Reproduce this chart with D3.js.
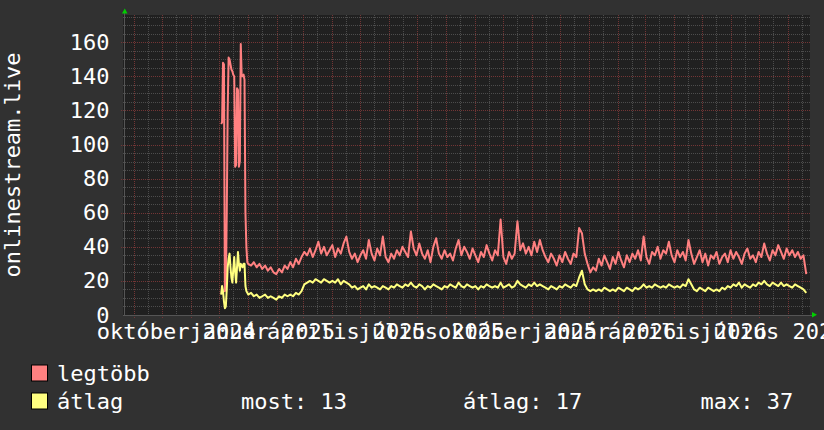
<!DOCTYPE html>
<html><head><meta charset="utf-8">
<script src="https://cdn.jsdelivr.net/npm/d3@7"></script>
<style>html,body{margin:0;padding:0;background:#313131;} svg{display:block;}</style>
</head><body>
<svg id="c" width="824" height="430"></svg>
<script>
const yAxisTitle = "onlinestream.live";
const monthNames = ["január","február","március","április","május","június","július","augusztus","szeptember","október","november","december"];
const labelMonths = ["2024-10-01","2025-01-01","2025-04-01","2025-07-01","2025-10-01","2026-01-01","2026-04-01","2026-07-01"];
const yTicks = [0,20,40,60,80,100,120,140,160];
const seriesNames = ["legtöbb","átlag"];
const seriesColors = ["#ff8080","#ffff80"];
const statLabels = ["most: 13","átlag: 17","max: 37"];

// daily values, December 2024 burst
const spikeStart = "2024-12-03";
const spikeMax = [112,113,148,147,14,15,60,120,151,150,147,144,143,141,140,87,88,133,132,87,90,159,140,140,141,138,60,40,31];
const spikeAvg = [12,17,14,8,4,5,15,28,33,36,28,22,19,27,34,25,19,28,37,30,26,30,29,28,30,30,17,14,13];

// values every 3 days from 2025-01-01
const mainStart = "2025-01-01";
const mainStepDays = 3;
const mainMax = [
30,29,31,28,30,27,29,26,28,25,
24,27,25,29,27,31,28,33,30,34,
37,35,39,34,38,43,36,40,35,38,
41,34,39,36,42,46,37,33,36,31,
35,38,33,44,36,32,39,35,46,34,
31,36,33,38,35,40,37,34,49,39,
35,42,36,33,38,31,40,45,36,33,
38,34,36,32,39,44,35,40,37,33,
39,35,31,37,34,41,36,32,38,35,
56,34,30,37,33,36,55,38,42,36,
40,35,43,37,44,38,34,31,36,33,
29,35,31,37,33,30,36,34,51,48,
36,30,25,28,26,33,29,35,31,27,
34,30,37,32,28,35,31,36,33,38,
32,46,34,30,37,35,40,33,38,36,
43,35,31,38,34,37,32,44,36,30,
34,38,31,36,29,35,33,37,30,34,
36,31,38,33,37,34,30,36,39,33,
35,31,37,34,42,36,32,38,35,41,
37,33,39,35,38,34,37,33,35,24];
const mainAvg = [
12,13,11,12,10,11,12,10,11,10,
9,11,10,12,11,12,11,13,12,14,
18,19,20,19,21,20,19,21,20,19,
20,19,21,18,20,19,18,16,17,15,
16,17,15,18,16,17,16,15,17,16,
15,17,16,18,17,16,18,17,19,17,
16,18,17,15,17,16,18,17,16,15,
17,16,18,17,16,19,17,16,18,17,
16,17,15,17,16,18,17,16,17,16,
19,16,17,18,16,17,20,18,17,16,
18,17,19,17,18,17,16,15,17,16,
15,17,16,18,17,16,18,17,22,26,
18,15,14,15,14,15,14,16,15,14,
15,14,16,15,14,16,15,14,16,15,
16,18,16,17,16,18,17,16,17,16,
18,17,16,17,16,18,17,21,18,15,
14,16,15,14,16,15,14,15,14,16,
15,17,16,18,17,19,16,18,17,16,
18,17,19,18,20,18,17,19,18,17,
19,17,18,17,16,18,17,16,15,13];

const DAY = 86400000;
const FONT = "'DejaVu Sans Mono', monospace";
const L = 123, R = 810, T = 15, B = 315;

const x = d3.scaleUtc().domain([new Date("2024-08-20T00:00:00Z"), new Date("2026-08-25T00:00:00Z")]).range([L, R]);
const y = d3.scaleLinear().domain([0, 176]).range([B, T]);

function build(start, step, vals) {
  const t0 = new Date(start + "T00:00:00Z").getTime();
  return vals.map((v, i) => ({date: new Date(t0 + i * step * DAY), v}));
}
const maxData = build(spikeStart, 1, spikeMax).concat(build(mainStart, mainStepDays, mainMax));
const avgData = build(spikeStart, 1, spikeAvg).concat(build(mainStart, mainStepDays, mainAvg));

const svg = d3.select("#c");
svg.append("rect").attr("width", 824).attr("height", 430).attr("fill", "#313131");
svg.append("rect").attr("x", L).attr("y", T).attr("width", R - L).attr("height", B - T).attr("fill", "#202020");

const minorCol = "#4c4c4c", majorCol = "#733535";
const g = svg.append("g").attr("shape-rendering", "crispEdges");

// horizontal grid
d3.range(5, 176, 5).filter(v => v % 20 !== 0).forEach(v => {
  g.append("line").attr("x1", L).attr("x2", R).attr("y1", Math.round(y(v)) + 0.5).attr("y2", Math.round(y(v)) + 0.5)
    .attr("stroke", minorCol).attr("stroke-dasharray", "1,1");
});
// vertical grid
const months = d3.utcMonth.range(x.domain()[0], x.domain()[1]);
months.forEach(m => {
  const mid = new Date(m.getTime() + 15 * DAY);
  if (mid < x.domain()[1]) {
    const xm = Math.round(x(mid)) + 0.5;
    g.append("line").attr("x1", xm).attr("x2", xm).attr("y1", T).attr("y2", B).attr("stroke", minorCol).attr("stroke-dasharray", "1,1");
  }
});
months.forEach(m => {
  const xm = Math.round(x(m)) + 0.5;
  g.append("line").attr("x1", xm).attr("x2", xm).attr("y1", T).attr("y2", B + 3).attr("stroke", majorCol).attr("stroke-dasharray", "1,1");
});
yTicks.filter(v => v > 0).forEach(v => {
  g.append("line").attr("x1", L - 2).attr("x2", R).attr("y1", Math.round(y(v)) + 0.5).attr("y2", Math.round(y(v)) + 0.5)
    .attr("stroke", majorCol).attr("stroke-dasharray", "1,1");
});

// axes
g.append("line").attr("x1", L).attr("x2", R + 2).attr("y1", B + 0.5).attr("y2", B + 0.5).attr("stroke", "#555");
g.append("line").attr("x1", L + 1.5).attr("x2", L + 1.5).attr("y1", T - 2).attr("y2", B).attr("stroke", "#555");
svg.append("path").attr("d", `M${L - 1},13.5 L${L + 4.5},13.5 L${L + 1.8},8.5 Z`).attr("fill", "#00d000");
svg.append("path").attr("d", `M${R + 2},312 L${R + 2},317.5 L${R + 7},314.7 Z`).attr("fill", "#00d000");

// lines
const line = d3.line().x(d => x(d.date)).y(d => y(d.v));
svg.append("path").datum(maxData).attr("d", line).attr("fill", "none").attr("stroke", seriesColors[0]).attr("stroke-width", 2).attr("stroke-linejoin", "round");
svg.append("path").datum(avgData).attr("d", line).attr("fill", "none").attr("stroke", seriesColors[1]).attr("stroke-width", 2).attr("stroke-linejoin", "round");

// y tick labels
const txt = svg.append("g").attr("font-family", FONT).attr("font-size", 22).attr("fill", "#ffffff");
yTicks.forEach(v => {
  txt.append("text").attr("x", 109.5).attr("y", y(v) + 7.5).attr("text-anchor", "end").text(v);
});
// x labels
labelMonths.forEach(s => {
  const d = new Date(s + "T00:00:00Z");
  const c = new Date(d.getTime() + 15 * DAY);
  txt.append("text").attr("x", x(c)).attr("y", 339).attr("text-anchor", "middle")
    .attr("xml:space", "preserve").text(monthNames[d.getUTCMonth()] + " " + d.getUTCFullYear());
});
// y title
txt.append("text").attr("transform", "translate(19.5,165) rotate(-90)").attr("text-anchor", "middle").text(yAxisTitle);

// legend
const rows = [381, 409];
seriesNames.forEach((n, i) => {
  svg.append("rect").attr("x", 31.5).attr("y", rows[i] - 16).attr("width", 16).attr("height", 16)
    .attr("fill", seriesColors[i]).attr("stroke", "#000").attr("stroke-width", 1);
  txt.append("text").attr("x", 57).attr("y", rows[i]).text(n);
});
const statX = [241, 463, 700.5];
statLabels.forEach((s, i) => {
  txt.append("text").attr("x", statX[i]).attr("y", rows[1]).attr("xml:space", "preserve").text(s);
});
</script>
</body></html>
